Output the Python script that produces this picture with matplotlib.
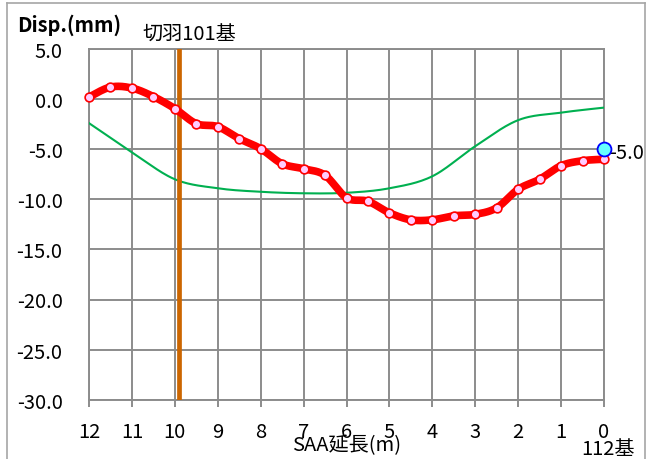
import numpy as np
import matplotlib
matplotlib.use("Agg")
import matplotlib.pyplot as plt
from matplotlib.lines import Line2D

plt.rcParams['font.family'] = ['Noto Sans CJK JP', 'DejaVu Sans']

# SAA position along the sensor (m) and measured displacement (mm)
pos = [12.0, 11.5, 11.0, 10.5, 10.0, 9.5, 9.0, 8.5, 8.0, 7.5, 7.0, 6.5, 6.0,
       5.5, 5.0, 4.5, 4.0, 3.5, 3.0, 2.5, 2.0, 1.5, 1.0, 0.5, 0.0]
disp = [0.2, 1.2, 1.1, 0.25, -0.95, -2.45, -2.75, -3.95, -4.95, -6.45, -6.95,
        -7.6, -9.85, -10.2, -11.35, -12.05, -12.05, -11.65, -11.5, -10.85,
        -9.0, -8.0, -6.65, -6.15, -6.0]

# Reference curve
ref_pos = [12, 11, 10, 9, 8, 7, 6, 5, 4, 3, 2, 1, 0]
ref_disp = [-2.4, -5.3, -8.0, -8.9, -9.25, -9.4, -9.35, -8.9, -7.7, -4.7,
            -2.1, -1.35, -0.85]

# Face position and the point at the end of the sensor
face_pos = 9.9
face_label = "切羽101基"
end_pos = 0.0
end_value = -5.0
end_label = "112基"

x_ticks = list(range(12, -1, -1))
y_ticks = [5.0, 0.0, -5.0, -10.0, -15.0, -20.0, -25.0, -30.0]


def smooth(x, y, n=24):
    """Catmull-Rom curve through the given points."""
    x = np.asarray(x, float)
    y = np.asarray(y, float)
    px = np.concatenate([[x[0]], x, [x[-1]]])
    py = np.concatenate([[y[0]], y, [y[-1]]])
    t = np.linspace(0, 1, n, endpoint=False)
    xs, ys = [], []
    for i in range(1, len(px) - 2):
        for arr, out in ((px, xs), (py, ys)):
            p0, p1, p2, p3 = arr[i - 1], arr[i], arr[i + 1], arr[i + 2]
            out.extend(0.5 * (2 * p1 + (-p0 + p2) * t
                              + (2 * p0 - 5 * p1 + 4 * p2 - p3) * t ** 2
                              + (-p0 + 3 * p1 - 3 * p2 + p3) * t ** 3))
    xs.append(x[-1])
    ys.append(y[-1])
    return np.array(xs), np.array(ys)


GRID = '#8c8c8c'
FS = 14.5

fig = plt.figure(figsize=(6.53, 4.60), dpi=100)
ax = fig.add_axes([89 / 653, 59.3 / 460, 515 / 653, 350.7 / 460])

ax.set_xlim(12, 0)
ax.set_ylim(-30, 5)
ax.set_xticks(x_ticks)
ax.set_xticklabels([str(v) for v in x_ticks])
ax.set_yticks(y_ticks)
ax.set_yticklabels([f"{v:.1f}" for v in y_ticks])
ax.grid(True, color=GRID, linewidth=1.4)
ax.set_axisbelow(True)
for s in ax.spines.values():
    s.set_color(GRID)
    s.set_linewidth(1.4)
ax.tick_params(axis='x', direction='out', length=5, width=1.4, color=GRID,
               labelsize=FS, pad=10)
ax.tick_params(axis='y', length=0, labelsize=FS, pad=19)

# reference curve
gx, gy = smooth(ref_pos, ref_disp)
ax.plot(gx, gy, color='#00b050', linewidth=1.5, zorder=3)

# face position
ax.axvline(face_pos, color='#cc6600', linewidth=3.4, zorder=4)
ax.annotate(face_label, xy=(face_pos, 5), xytext=(10, 15),
            textcoords='offset pixels', ha='center', va='center',
            fontsize=FS, annotation_clip=False)

# measured displacement
rx, ry = smooth(pos, disp)
ax.plot(rx, ry, color='#ff0000', linewidth=5.5, solid_capstyle='round',
        zorder=5, clip_on=False)
ax.plot(pos, disp, linestyle='none', marker='o', markersize=6.3,
        markerfacecolor='#ffccff', markeredgecolor='#ff0000',
        markeredgewidth=1.2, zorder=6, clip_on=False)

# value at the end of the sensor
ax.plot([end_pos], [end_value], linestyle='none', marker='o', markersize=10,
        markerfacecolor='#66ffff', markeredgecolor='#0000ff',
        markeredgewidth=1.3, zorder=7, clip_on=False)
ax.annotate(f"{end_value:.1f}", xy=(end_pos, end_value), xytext=(5, -3),
            textcoords='offset pixels', ha='left', va='center',
            fontsize=FS, annotation_clip=False)

# titles
fig.text(17 / 653, 1 - 25 / 460, "Disp.(mm)", ha='left', va='center',
         fontsize=FS, fontweight='bold')
ax.set_xlabel("SAA延長(m)", fontsize=FS, labelpad=-5)
fig.text(608 / 653, 1 - 450 / 460, end_label, ha='center', va='center',
         fontsize=FS)

# chart border
bc = '#a6a6a6'
fig.add_artist(Line2D([7 / 653, 7 / 653], [-0.1, 1 - 4 / 460], color=bc,
                      linewidth=1.2, transform=fig.transFigure))
fig.add_artist(Line2D([7 / 653, 645 / 653], [1 - 4 / 460, 1 - 4 / 460],
                      color=bc, linewidth=1.2, transform=fig.transFigure))
fig.add_artist(Line2D([645 / 653, 645 / 653], [-0.1, 1 - 4 / 460], color=bc,
                      linewidth=1.2, transform=fig.transFigure))

fig.savefig("out.png", dpi=100)
